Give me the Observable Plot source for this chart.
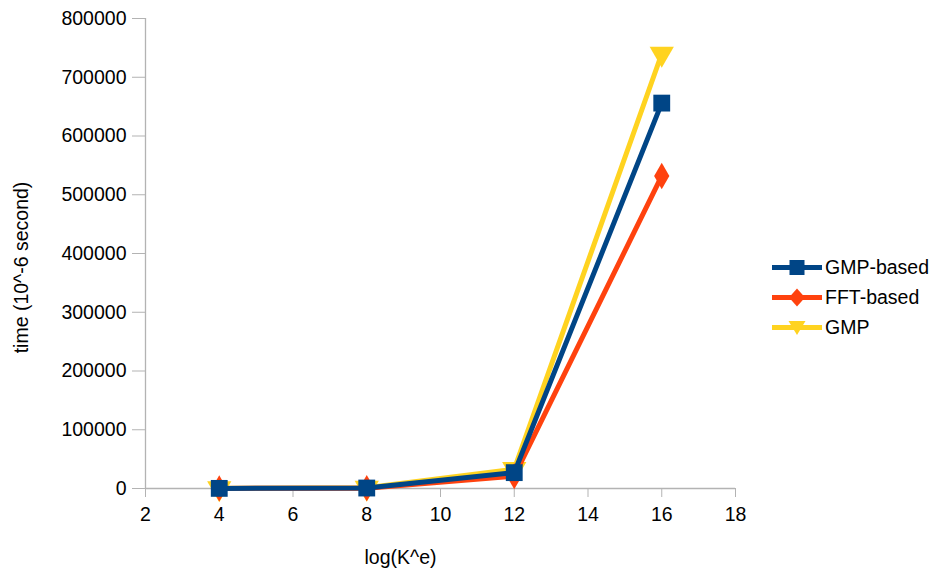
<!DOCTYPE html>
<html><head><meta charset="utf-8">
<script src="https://cdn.jsdelivr.net/npm/d3@7"></script>
<script src="https://cdn.jsdelivr.net/npm/@observablehq/plot@0.6"></script>
<style>
body{margin:0;background:#fff;font-family:"Liberation Sans",Arial,sans-serif;}
#wrap{position:relative;width:944px;height:573px;}
#legend{position:absolute;left:772px;top:252px;font-size:19.5px;color:#000;}
#legend div{display:flex;align-items:center;height:30px;}
#legend svg{margin-right:3px;}
</style></head><body>
<div id="wrap"><div id="chart"></div><div id="legend"></div></div>
<script>
const xs = [4, 8, 12, 16];
const gmpBased = [200, 800, 27000, 656000];
const fftBased = [150, 600, 21000, 532000];
const gmp = [300, 1200, 33000, 740000];
const seriesNames = ["GMP-based", "FFT-based", "GMP"];
const colors = ["#004586", "#ff420e", "#ffd320"];
const xTicks = [2, 4, 6, 8, 10, 12, 14, 16, 18];
const yTicks = [0, 100000, 200000, 300000, 400000, 500000, 600000, 700000, 800000];

const mk = (vals, name) => xs.map((x, i) => ({x, y: vals[i], s: name}));
const dGB = mk(gmpBased, seriesNames[0]);
const dFB = mk(fftBased, seriesNames[1]);
const dG = mk(gmp, seriesNames[2]);

const FS = 19.5;
const plot = Plot.plot({
  width: 944, height: 573,
  marginLeft: 145, marginRight: 209, marginTop: 18, marginBottom: 85,
  style: {fontFamily: "Liberation Sans, Arial, sans-serif", fontSize: FS + "px", color: "#000", background: "#fff"},
  x: {domain: [2, 18], ticks: xTicks, label: null},
  y: {domain: [0, 800000], ticks: yTicks, label: null},
  marks: [
    Plot.ruleX([2], {stroke: "#b3b3b3", strokeWidth: 1.3}),
    Plot.ruleY([0], {stroke: "#b3b3b3", strokeWidth: 1.3}),
    Plot.axisX({ticks: xTicks, tickSize: 9, stroke: "#b3b3b3", tickPadding: 10, fontSize: FS, label: null, tickFormat: d => String(d)}),
    Plot.axisY({ticks: yTicks, tickSize: 13, stroke: "#b3b3b3", tickPadding: 6, fontSize: FS, label: null, tickFormat: d => String(d)}),
    Plot.line(dG, {x: "x", y: "y", stroke: colors[2], strokeWidth: 5}),
    Plot.dot(dG, {x: "x", y: "y", symbol: "triangle", rotate: 180, fill: colors[2], r: 9}),
    Plot.line(dFB, {x: "x", y: "y", stroke: colors[1], strokeWidth: 5}),
    Plot.dot(dFB, {x: "x", y: "y", symbol: "diamond", fill: colors[1], r: 8}),
    Plot.line(dGB, {x: "x", y: "y", stroke: colors[0], strokeWidth: 5}),
    Plot.dot(dGB, {x: "x", y: "y", symbol: "square", fill: colors[0], r: 9.5}),
    Plot.text(["log(K^e)"], {frameAnchor: "bottom", textAnchor: "middle", dx: -40, dy: 75, fontSize: FS, fill: "#000"}),
    Plot.text(["time (10^-6 second)"], {frameAnchor: "left", textAnchor: "middle", dx: -124, dy: 14, rotate: -90, fontSize: FS, fill: "#000"})
  ]
});
document.getElementById("chart").appendChild(plot);

const shapes = [
  '<rect x="17.5" y="5" width="15" height="15"/>',
  '<path d="M25 3.5 L33 12.5 L25 21.5 L17 12.5Z"/>',
  '<path d="M16.5 6 L33.5 6 L25 20Z"/>'
];
const leg = document.getElementById("legend");
seriesNames.forEach((n, i) => {
  const div = document.createElement("div");
  div.innerHTML = `<svg width="50" height="25"><line x1="0" x2="50" y1="12.5" y2="12.5" stroke="${colors[i]}" stroke-width="5"/><g fill="${colors[i]}">${shapes[i]}</g></svg><span>${n}</span>`;
  leg.appendChild(div);
});
</script>
</body></html>
